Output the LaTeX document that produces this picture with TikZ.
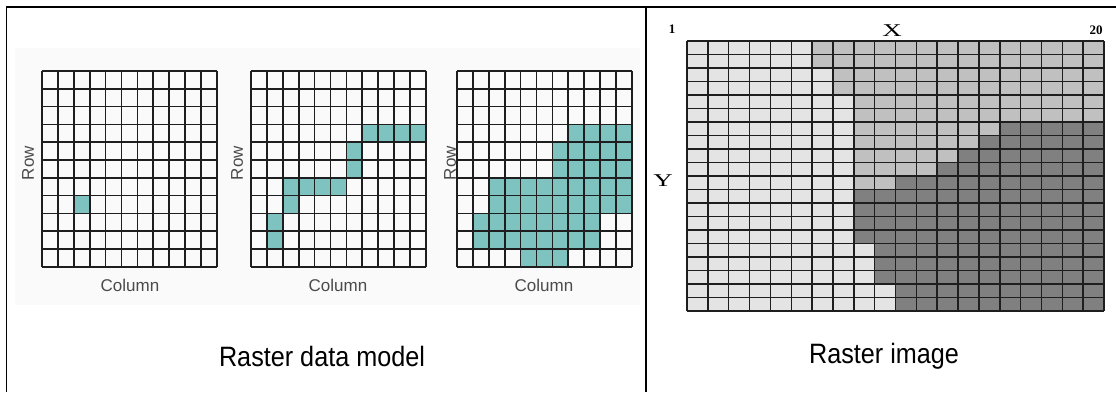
\documentclass[tikz,border=0pt]{standalone}
\usepackage{fontspec}
\setmainfont{Liberation Sans}
\newfontfamily\labelserif{Liberation Serif}
\usetikzlibrary{positioning}
\definecolor{ink}{HTML}{000000}
\definecolor{gridink}{HTML}{1E1E1E}
\definecolor{axisgray}{HTML}{4A4A4A}
\definecolor{papergray}{HTML}{FAFAFA}
\definecolor{cellteal}{HTML}{7FC3C1}
\definecolor{graylight}{HTML}{E4E4E4}
\definecolor{graymid}{HTML}{C0C0C0}
\definecolor{graydark}{HTML}{808080}

\begin{document}
\begin{tikzpicture}[x=1pt, y=-1pt,
      frame/.style={draw=ink, line width=1.8pt},
      gridline/.style={draw=gridink, line width=1.7pt},
      rastline/.style={draw=gridink, line width=1.5pt},
      axislabel/.style={text=axisgray, font=\fontsize{17}{20}\selectfont, inner sep=0pt},
      caption/.style={font=\fontsize{28}{32}\selectfont, xscale=0.9, inner sep=0pt},
      coordlabel/.style={font=\labelserif\fontsize{18}{20}\selectfont, xscale=1.5, inner sep=0pt},
      ticklabel/.style={font=\labelserif\bfseries\fontsize{13}{15}\selectfont, inner sep=0pt},
    ]
      \useasboundingbox (0,0) rectangle (1116,392);
      \fill[white] (0,0) rectangle (1116,392);
      \fill[papergray] (15,48) rectangle (640,305);

      % data model grids
      \foreach \r/\a/\b in {7/2/2}
        \fill[cellteal] ({42+\a*15.9},{71+\r*17.8}) rectangle ({42+(\b+1)*15.9},{71+(\r+1)*17.8});
      \foreach \r/\a/\b in {3/7/10,4/6/6,5/6/6,6/2/5,7/2/2,8/1/1,9/1/1}
        \fill[cellteal] ({251+\a*15.9},{71+\r*17.8}) rectangle ({251+(\b+1)*15.9},{71+(\r+1)*17.8});
      \foreach \r/\a/\b in {3/7/10,4/6/10,5/6/10,6/2/10,7/2/10,8/1/8,9/1/8,10/4/6}
        \fill[cellteal] ({457+\a*15.9},{71+\r*17.8}) rectangle ({457+(\b+1)*15.9},{71+(\r+1)*17.8});
      \foreach \gx in {42,251,457} {
        \foreach \i in {0,...,11} {
          \draw[gridline] ({\gx+\i*15.9},71) -- ({\gx+\i*15.9},{71+11*17.8});
          \draw[gridline] (\gx,{71+\i*17.8}) -- ({\gx+11*15.9},{71+\i*17.8});
        }
      }
      \node[axislabel, rotate=90] (rowa) at (28,163) {Row};
      \node[axislabel, rotate=90] (rowb) at (237,163) {Row};
      \node[axislabel, rotate=90] (rowc) at (450,163) {Row};
      \node[axislabel] (cola) at (130,285) {Column};
      \node[axislabel] (colb) at (338,285) {Column};
      \node[axislabel] (colc) at (544,285) {Column};

      % raster image
      \foreach \r/\a/\b in {0/6/20,1/6/20,2/7/20,3/7/20,4/8/20,5/8/20,6/8/15,7/8/14,8/8/13,9/8/12,
                            10/8/10,11/8/8,12/8/8,13/8/8,14/8/8,15/9/9,16/9/9,17/9/9,18/10/10,19/10/10} {
        \fill[graylight] (687,{41+\r*13.5}) rectangle ({687+\a*20.85},{41+(\r+1)*13.5});
        \fill[graymid] ({687+\a*20.85},{41+\r*13.5}) rectangle ({687+\b*20.85},{41+(\r+1)*13.5});
        \fill[graydark] ({687+\b*20.85},{41+\r*13.5}) rectangle ({687+20*20.85},{41+(\r+1)*13.5});
      }
      \foreach \i in {0,...,20} {
        \draw[rastline] ({687+\i*20.85},41) -- ({687+\i*20.85},311);
        \draw[rastline] (687,{41+\i*13.5}) -- ({687+20*20.85},{41+\i*13.5});
      }
      \node[ticklabel] (xfirst) at (672,29) {1};
      \node[coordlabel] (xaxis) at (892,31) {X};
      \node[ticklabel] (xlast) at (1096,30) {20};
      \node[coordlabel] (yaxis) at (663,181) {Y};

      % table frame and captions
      \draw[frame] (1116,7) -- (6.5,7) -- (6.5,392);
      \draw[frame] (646,7) -- (646,392);
      \node[caption] (capmodel) at (322,356) {Raster data model};
      \node[caption] (capimage) at (884,356) {Raster image};
    \end{tikzpicture}
\end{document}
